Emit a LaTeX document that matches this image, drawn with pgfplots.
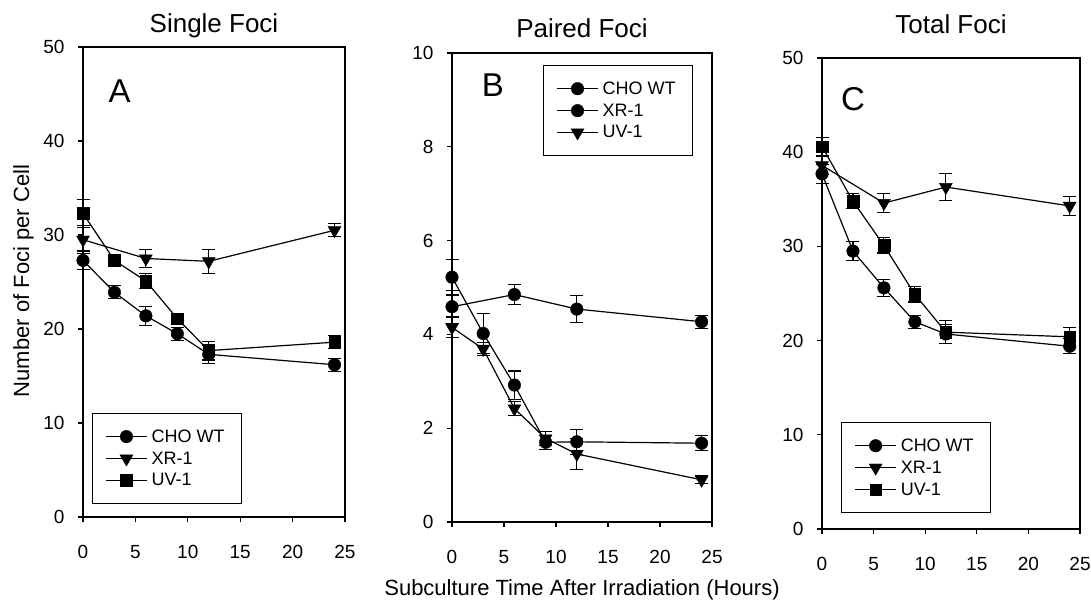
\documentclass[border=0pt]{standalone}
\usepackage{fontspec}
\setmainfont{Liberation Sans}
\usepackage{pgfplots}
\pgfplotsset{compat=1.18}

\pgfplotsset{
  panel/.style={
    scale only axis,
    xmin=0, xmax=25, xtick={0,5,...,25},
    tick align=outside, xtick pos=lower, ytick pos=left,
    major tick length=5pt,
    tick style={black, line width=1.1pt},
    axis line style={black, line width=1.3pt},
    tick label style={font=\fontsize{19}{21}\selectfont},
    /pgf/number format/assume math mode=true,
    xticklabel style={anchor=base, yshift=-36pt},
    yticklabel style={anchor=east, xshift=-10pt},
    title style={at={(0.5,1)}, anchor=base, yshift=9pt, font=\fontsize{26}{26}\selectfont},
    clip=false,
    every axis plot/.append style={black, line width=1.2pt},
    legend cell align=left,
    legend style={draw=black, line width=0.9pt, fill=white,
      font=\fontsize{18}{20}\selectfont,
      inner xsep=13pt, inner ysep=12pt, row sep=0pt,
      nodes={inner sep=4pt},
      /tikz/every even column/.append style={column sep=10pt}},
    legend image code/.code={%
      \draw[mark repeat=2,mark phase=2,#1] plot coordinates {(0pt,0pt) (20.5pt,0pt) (41pt,0pt)};},
  },
  circ/.style={mark=*, mark size=6.3pt, mark options={fill=black, line width=0.4pt}},
  tri/.style={mark=triangle*, mark size=7.5pt, mark options={fill=black, rotate=180, line width=0.4pt}},
  sq/.style={mark=square*, mark size=5.8pt, mark options={fill=black, line width=0.4pt}},
  eb/.style={error bars/.cd, y dir=both, y explicit,
    error bar style={line width=1.1pt, black},
    error mark options={rotate=90, line width=1.1pt, mark size=6.5pt, black}},
}

\begin{document}
\begin{tikzpicture}[x=1pt,y=1pt]
\path[use as bounding box] (0,0) rectangle (1091,600);

% Panel A
\begin{axis}[panel, at={(83pt,83pt)}, anchor=south west, width=262pt, height=470pt,
  ymin=0, ymax=50, ytick={0,10,...,50}, title={Single Foci},
  legend style={at={(0.034,0.028)}, anchor=south west}]
\addplot[circ, eb] coordinates {(0,27.3) +- (0,1.0) (3,23.9) +- (0,0.7) (6,21.4) +- (0,1.0) (9,19.5) +- (0,0.7) (12,17.3) +- (0,1.0) (24,16.2) +- (0,0.7)};
\addlegendentry{CHO WT}
\addplot[tri, eb] coordinates {(0,29.5) +- (0,1.5) (6,27.5) +- (0,1.0) (12,27.2) +- (0,1.3) (24,30.5) +- (0,0.7)};
\addlegendentry{XR-1}
\addplot[sq, eb] coordinates {(0,32.3) +- (0,1.5) (3,27.3) +- (0,0.4) (6,25.1) +- (0,0.8) (9,21.1) +- (0,0.4) (12,17.7) +- (0,1.0) (24,18.6) +- (0,0.7)};
\addlegendentry{UV-1}
\node[font=\fontsize{33}{33}\selectfont] at (axis cs:3.5,45.3) {A};
\end{axis}

% Panel B
\begin{axis}[panel, at={(452pt,78pt)}, anchor=south west, width=260pt, height=469pt,
  ymin=0, ymax=10, ytick={0,2,...,10}, title={Paired Foci},
  legend style={at={(0.35,0.974)}, anchor=north west}]
\addplot[circ, eb] coordinates {(0,5.22) +- (0,0.38) (3,4.02) +- (0,0.42) (6,2.92) +- (0,0.3) (9,1.70) +- (0,0.15) (12,1.71) +- (0,0.27) (24,1.68) +- (0,0.16)};
\addlegendentry{CHO WT}
\addplot[circ, eb] coordinates {(0,4.59) +- (0,0.35) (6,4.85) +- (0,0.22) (12,4.54) +- (0,0.28) (24,4.27) +- (0,0.14)};
\addlegendentry{XR-1}
\addplot[tri, eb] coordinates {(0,4.15) +- (0,0.22) (3,3.69) +- (0,0.14) (6,2.42) +- (0,0.14) (9,1.78) +- (0,0.15) (12,1.45) +- (0,0.34) (24,0.9) +- (0,0.08)};
\addlegendentry{UV-1}
\node[font=\fontsize{33}{33}\selectfont] at (axis cs:3.94,9.32) {B};
\end{axis}

% Panel C
\begin{axis}[panel, at={(822pt,71pt)}, anchor=south west, width=258pt, height=471pt,
  ymin=0, ymax=50, ytick={0,10,...,50}, title={Total Foci},
  title style={yshift=10pt},
  legend style={at={(0.074,0.034)}, anchor=south west}]
\addplot[circ, eb] coordinates {(0,37.7) +- (0,1.0) (3,29.5) +- (0,1.0) (6,25.6) +- (0,0.9) (9,22.0) +- (0,0.7) (12,20.7) +- (0,1.0) (24,19.4) +- (0,0.8)};
\addlegendentry{CHO WT}
\addplot[tri, eb] coordinates {(0,38.6) +- (0,1.0) (6,34.6) +- (0,1.0) (12,36.3) +- (0,1.4) (24,34.3) +- (0,1.0)};
\addlegendentry{XR-1}
\addplot[sq, eb] coordinates {(0,40.6) +- (0,1.0) (3,34.8) +- (0,0.8) (6,30.1) +- (0,0.8) (9,24.9) +- (0,0.8) (12,20.9) +- (0,1.2) (24,20.4) +- (0,1.0)};
\addlegendentry{UV-1}
\node[font=\fontsize{33}{33}\selectfont] at (axis cs:3.0,45.6) {C};
\end{axis}

\node[rotate=90, anchor=base, font=\fontsize{22}{22}\selectfont] at (29,319) {Number of Foci per Cell};
\node[anchor=base, font=\fontsize{22}{22}\selectfont] at (582,5) {Subculture Time After Irradiation (Hours)};
\end{tikzpicture}
\end{document}
